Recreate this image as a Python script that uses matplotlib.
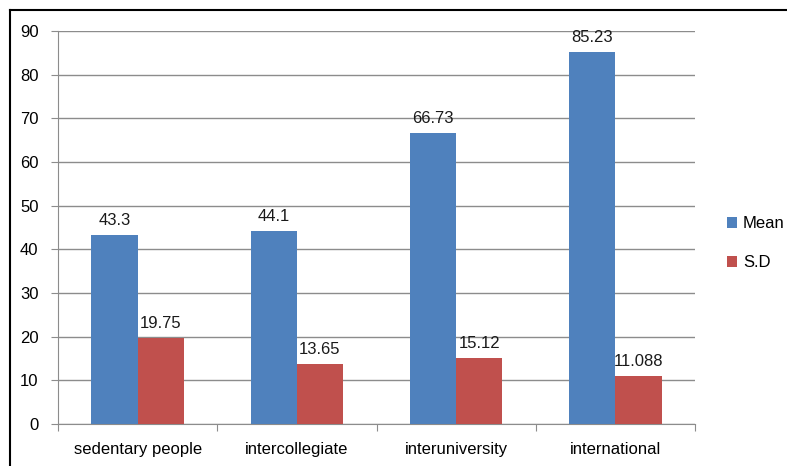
import numpy as np
import matplotlib
matplotlib.use("Agg")
import matplotlib.pyplot as plt

# Mean and standard deviation per group
categories = ["sedentary people", "intercollegiate", "interuniversity", "international"]
mean_vals = [43.3, 44.1, 66.73, 85.23]
sd_vals = [19.75, 13.65, 15.12, 11.088]
mean_labels = ["43.3", "44.1", "66.73", "85.23"]
sd_labels = ["19.75", "13.65", "15.12", "11.088"]

plt.rcParams["font.family"] = ["Liberation Sans", "DejaVu Sans"]
plt.rcParams["font.size"] = 12

fig = plt.figure(figsize=(7.87, 4.66), dpi=100)
ax = fig.add_axes([0.0737, 0.0901, 0.8094, 0.8434])

x = np.arange(len(categories))
w = 0.29
b1 = ax.bar(x - w / 2, mean_vals, w, color="#4F81BD", label="Mean", zorder=3)
b2 = ax.bar(x + w / 2, sd_vals, w, color="#C0504D", label="S.D", zorder=3)

for bars, labels in ((b1, mean_labels), (b2, sd_labels)):
    for bar, lab in zip(bars, labels):
        ax.annotate(lab, (bar.get_x() + bar.get_width() / 2, bar.get_height()),
                    xytext=(0, 5), textcoords="offset points",
                    ha="center", va="bottom", color="#1a1a1a", zorder=4)

ax.set_xlim(-0.5, len(categories) - 0.5)
ax.set_ylim(0, 90)
ax.set_yticks(range(0, 91, 10))
ax.yaxis.grid(True, color="#8C8C8C", linewidth=1.0, zorder=0)

# category boundary ticks on the x axis
ax.set_xticks(np.arange(-0.5, len(categories), 1.0))
ax.set_xticklabels([])
ax.set_xticks(x, minor=True)
ax.set_xticklabels(categories, minor=True)
ax.tick_params(axis="x", which="minor", length=0, pad=13)
ax.tick_params(axis="x", which="major", length=5, color="#8C8C8C")
ax.tick_params(axis="y", length=5, color="#8C8C8C", pad=9)

for side in ("top", "right"):
    ax.spines[side].set_visible(False)
for side in ("left", "bottom"):
    ax.spines[side].set_color("#8C8C8C")

fig.legend(handles=[b1, b2], loc="center left", bbox_to_anchor=(0.905, 0.478),
           frameon=False, handlelength=0.6, handleheight=0.6,
           labelspacing=1.45, handletextpad=0.35)

# frame around the chart
fig.add_artist(plt.Line2D([0.0127, 0.0127], [0.0, 0.979], color="black",
                          linewidth=1.5, transform=fig.transFigure))
fig.add_artist(plt.Line2D([0.0127, 1.0], [0.979, 0.979], color="black",
                          linewidth=1.5, transform=fig.transFigure))

fig.savefig("out.png", dpi=100)
